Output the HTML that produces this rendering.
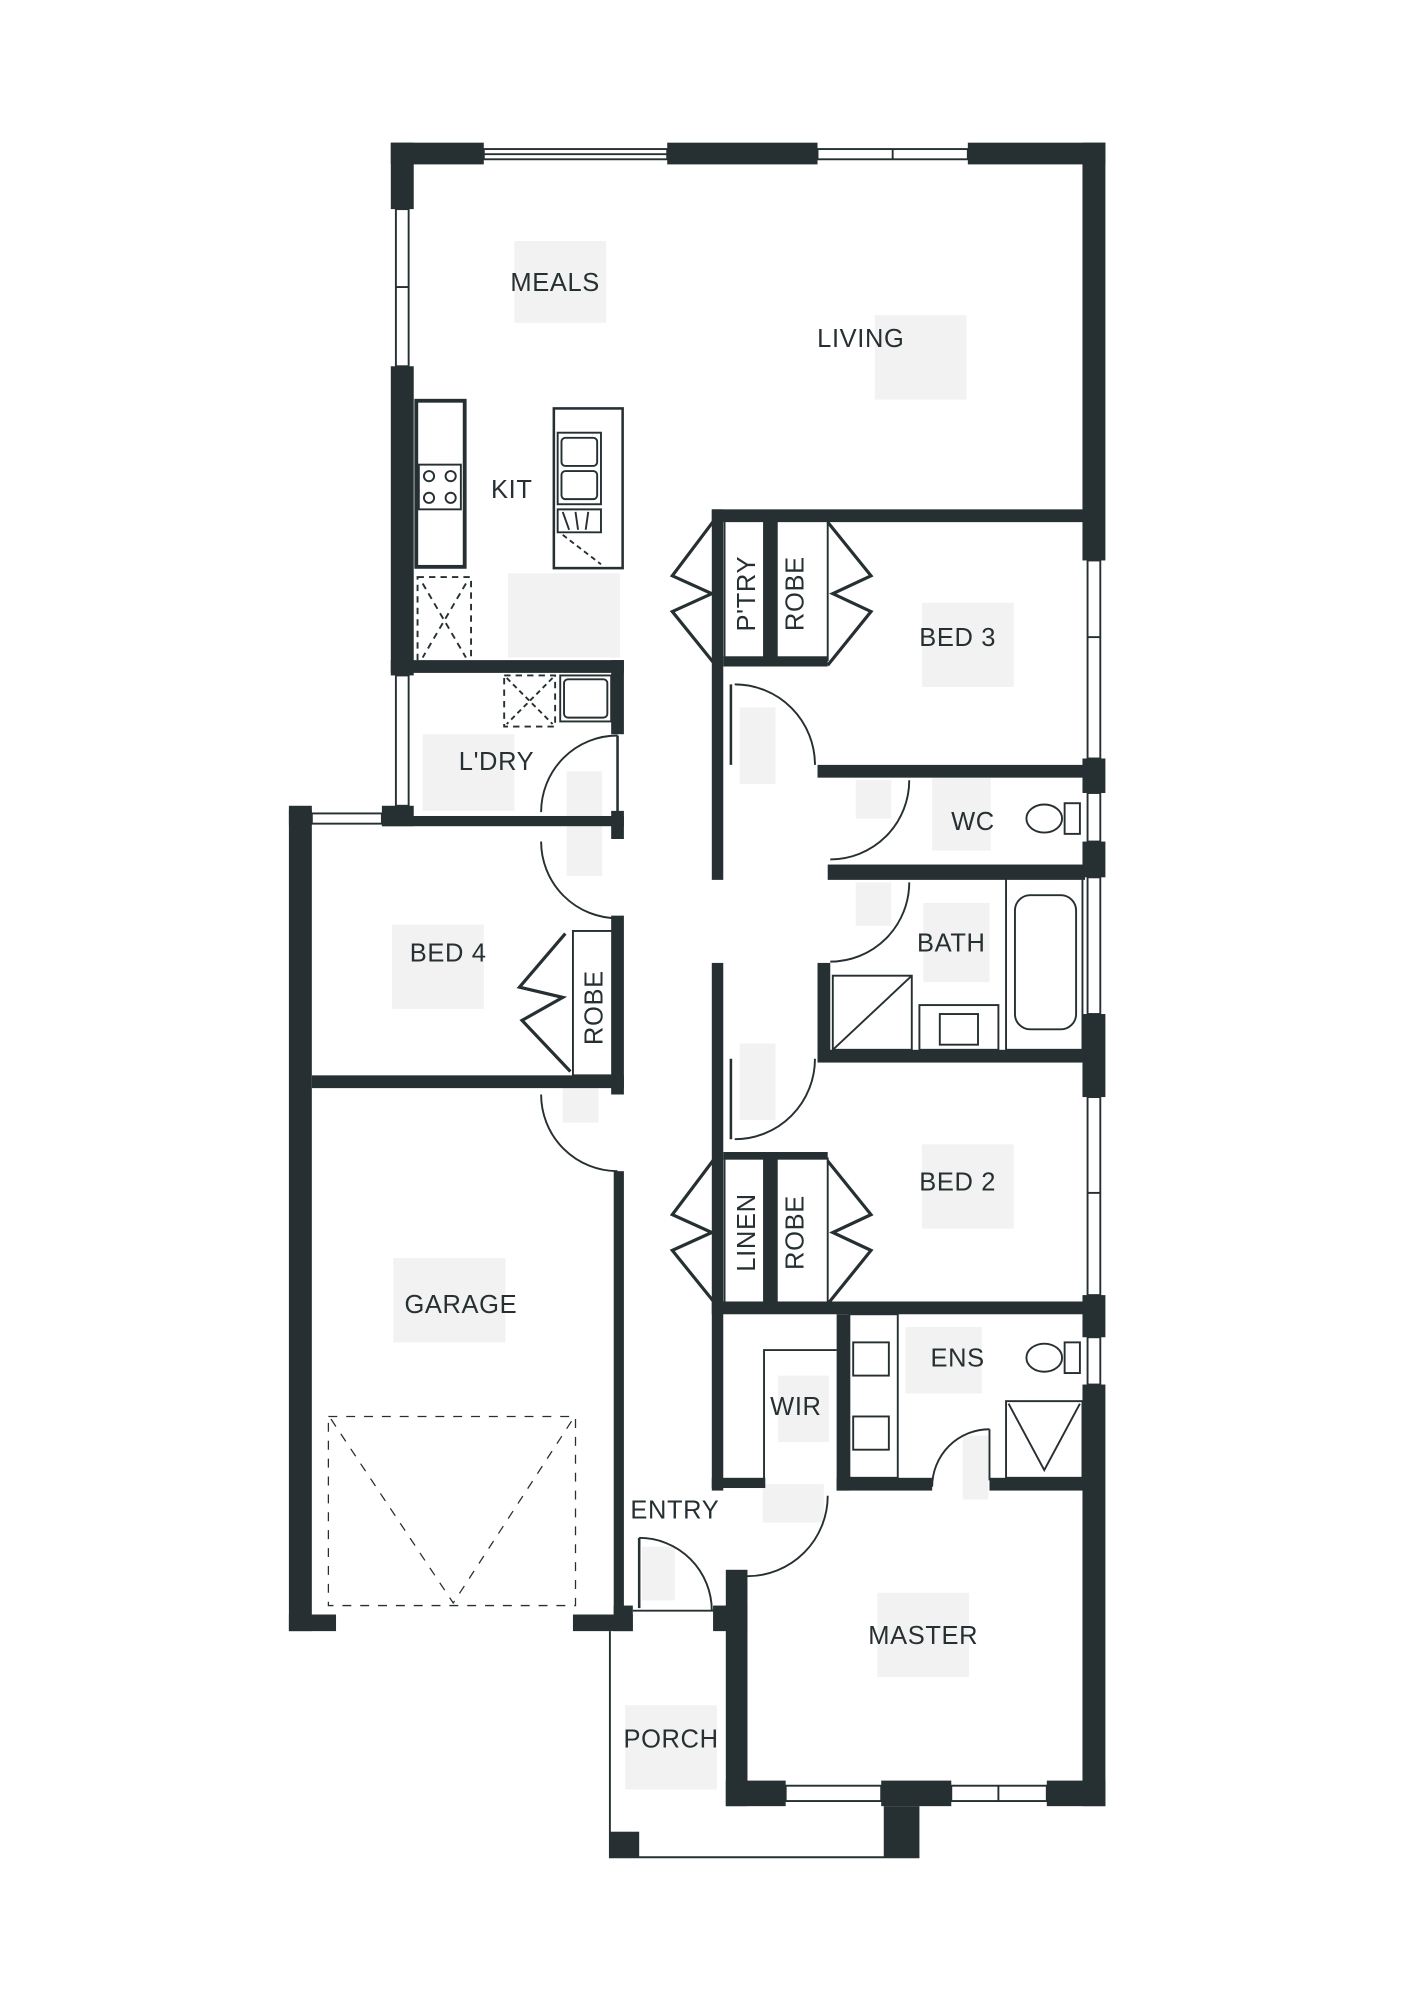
<!DOCTYPE html>
<html><head><meta charset="utf-8"><style>
html,body{margin:0;padding:0;background:#fff}
svg{display:block}
text{font-family:"Liberation Sans",sans-serif;fill:#263033;font-size:20px;letter-spacing:0.5px}
</style></head><body>
<svg width="1414" height="2000" viewBox="0 0 1100 1556" xmlns="http://www.w3.org/2000/svg">
<rect width="1100" height="1556" fill="#fff"/>
<g transform="translate(304,111) scale(0.991,0.994) translate(-305,-113)">
<g fill="#f2f2f2">
<rect x="402" y="190" width="72" height="64"/>
<rect x="685" y="248" width="72" height="66"/>
<rect x="397" y="450" width="88" height="66"/>
<rect x="722" y="473" width="72" height="66"/>
<rect x="330" y="576" width="72" height="60"/>
<rect x="579" y="555" width="28" height="60"/>
<rect x="443" y="605" width="28" height="82"/>
<rect x="670" y="612" width="28" height="30"/>
<rect x="730" y="610" width="46" height="57"/>
<rect x="670" y="692" width="28" height="34"/>
<rect x="723" y="708" width="52" height="62"/>
<rect x="306" y="725" width="72" height="66"/>
<rect x="579" y="818" width="28" height="60"/>
<rect x="440" y="850" width="28" height="30"/>
<rect x="722" y="897" width="72" height="66"/>
<rect x="307" y="986" width="88" height="66"/>
<rect x="709" y="1040" width="60" height="52"/>
<rect x="609" y="1078" width="40" height="52"/>
<rect x="754" y="1125" width="20" height="50"/>
<rect x="597" y="1163" width="48" height="30"/>
<rect x="502" y="1212" width="26" height="42"/>
<rect x="687" y="1248" width="72" height="66"/>
<rect x="489" y="1336" width="72" height="66"/>
</g>
<g fill="#263033">
<rect x="305" y="113" width="73" height="17"/>
<rect x="522" y="113" width="118" height="17"/>
<rect x="758" y="113" width="108" height="17"/>
<rect x="305" y="113" width="18" height="52"/>
<rect x="305" y="288" width="18" height="242"/>
<rect x="298" y="632" width="25" height="16"/>
<rect x="305" y="518" width="183" height="10"/>
<rect x="478" y="518" width="10" height="58"/>
<rect x="478" y="636" width="10" height="22"/>
<rect x="225" y="635" width="18" height="12"/>
<rect x="298" y="640" width="190" height="8"/>
<rect x="225" y="632" width="18" height="646"/>
<rect x="243" y="843" width="245" height="10"/>
<rect x="478" y="718" width="10" height="140"/>
<rect x="480" y="918" width="8" height="357"/>
<rect x="225" y="1265" width="37" height="13"/>
<rect x="448" y="1265" width="47" height="13"/>
<rect x="557" y="400" width="9" height="290"/>
<rect x="557" y="755" width="9" height="413"/>
<rect x="557" y="400" width="293" height="10"/>
<rect x="598" y="405" width="10" height="118"/>
<rect x="566" y="515" width="82" height="8"/>
<rect x="598" y="905" width="10" height="118"/>
<rect x="566" y="903" width="82" height="6"/>
<rect x="848" y="113" width="18" height="327"/>
<rect x="848" y="595" width="18" height="27"/>
<rect x="848" y="660" width="18" height="28"/>
<rect x="848" y="795" width="18" height="65"/>
<rect x="848" y="1015" width="18" height="33"/>
<rect x="848" y="1085" width="18" height="330"/>
<rect x="640" y="600" width="210" height="10"/>
<rect x="648" y="678" width="202" height="12"/>
<rect x="640" y="823" width="210" height="10"/>
<rect x="640" y="755" width="10" height="75"/>
<rect x="557" y="1020" width="293" height="10"/>
<rect x="655" y="1030" width="10" height="138"/>
<rect x="655" y="1158" width="75" height="10"/>
<rect x="775" y="1158" width="75" height="10"/>
<rect x="557" y="1158" width="42" height="8"/>
<rect x="568" y="1230" width="17" height="185"/>
<rect x="568" y="1395" width="47" height="20"/>
<rect x="690" y="1395" width="55" height="20"/>
<rect x="820" y="1395" width="46" height="20"/>
<rect x="692" y="1415" width="28" height="40"/>
<rect x="477" y="1435" width="23" height="20"/>
<rect x="480" y="1258" width="15" height="20"/>
<rect x="558" y="1258" width="27" height="20"/>
</g>
<g fill="none" stroke="#263033" stroke-width="1.5">
<rect x="378" y="118" width="144" height="8"/><line x1="378" y1="122" x2="522" y2="122"/>
<rect x="640" y="118" width="118" height="8"/><line x1="699" y1="118" x2="699" y2="126"/>
<rect x="309" y="165" width="10" height="123"/><line x1="309" y1="226" x2="319" y2="226"/>
<rect x="309" y="530" width="10" height="102"/>
<rect x="243" y="638" width="55" height="8"/>
<rect x="852" y="440" width="10" height="155"/><line x1="852" y1="500" x2="862" y2="500"/>
<rect x="852" y="688" width="10" height="107"/>
<rect x="852" y="860" width="10" height="155"/><line x1="852" y1="935" x2="862" y2="935"/>
<rect x="852" y="622" width="10" height="38"/>
<rect x="852" y="1048" width="10" height="37"/>
<rect x="615" y="1399" width="75" height="12"/>
<rect x="745" y="1399" width="75" height="12"/><line x1="782" y1="1399" x2="782" y2="1411"/>
<polyline points="477,1278 477,1455 720,1455"/>
<line x1="495" y1="1262" x2="560" y2="1262"/>
<rect x="325" y="315" width="38" height="130" stroke-width="3"/>
<rect x="327" y="365" width="33" height="35"/>
<circle cx="335" cy="374" r="4"/><circle cx="352" cy="374" r="4"/><circle cx="335" cy="391" r="4"/><circle cx="352" cy="391" r="4"/>
<rect x="326" y="453" width="42" height="67" stroke-dasharray="5,4"/>
<line x1="330" y1="458" x2="364" y2="516" stroke-dasharray="5,4"/><line x1="364" y1="458" x2="330" y2="516" stroke-dasharray="5,4"/>
<rect x="433" y="321" width="54" height="125" stroke-width="2"/>
<rect x="436" y="340" width="34" height="56"/>
<rect x="439" y="344" width="28" height="22" rx="3"/><rect x="439" y="370" width="28" height="22" rx="3"/>
<path d="M436 400 L470 400 L470 418 L436 418 Z"/>
<line x1="440" y1="402" x2="445" y2="416"/><line x1="450" y1="402" x2="452" y2="416"/><line x1="460" y1="402" x2="458" y2="416"/>
<line x1="440" y1="420" x2="470" y2="443" stroke-dasharray="4,3"/>
<rect x="394" y="530" width="40" height="40" stroke-dasharray="5,4"/>
<line x1="396" y1="532" x2="432" y2="568" stroke-dasharray="4,3"/><line x1="432" y1="532" x2="396" y2="568" stroke-dasharray="4,3"/>
<rect x="438" y="530" width="40" height="36"/><rect x="441" y="533" width="34" height="30" rx="3"/>
<rect x="256" y="1110" width="194" height="148" stroke-dasharray="7,7" stroke-width="1"/>
<polyline points="258,1112 354,1256 448,1112" stroke-dasharray="7,7" stroke-width="1"/>
<rect x="567" y="405" width="31" height="113"/><rect x="608" y="405" width="40" height="113"/>
<rect x="567" y="908" width="31" height="113"/><rect x="608" y="908" width="40" height="113"/>
<rect x="448" y="730" width="32" height="113"/>
<polyline points="560,407 526,452 557,466 526,480 560,522" stroke-width="2.5"/>
<polyline points="648,410 682,452 652,466 682,480 648,522" stroke-width="2.5"/>
<polyline points="560,907 526,952 557,966 526,980 560,1022" stroke-width="2.5"/>
<polyline points="648,910 682,952 652,966 682,980 648,1022" stroke-width="2.5"/>
<polyline points="442,732 406,774 440,782 408,800 446,840" stroke-width="2.5"/>
<path d="M483 577 A60 60 0 0 0 423 637"/><line x1="483" y1="577" x2="483" y2="637" stroke-width="2"/>
<path d="M423 660 A60 60 0 0 0 483 720"/>
<path d="M423 858 A60 60 0 0 0 483 918"/>
<path d="M575 537 A63 63 0 0 1 638 600"/><line x1="572" y1="537" x2="572" y2="600" stroke-width="2"/>
<path d="M712 612 A62 62 0 0 1 650 674"/>
<path d="M712 692 A62 62 0 0 1 650 754"/>
<path d="M638 830 A63 63 0 0 1 575 893"/><line x1="572" y1="830" x2="572" y2="893" stroke-width="2"/>
<path d="M730 1165 A45 45 0 0 1 775 1120"/><line x1="775" y1="1120" x2="775" y2="1160"/>
<path d="M648 1172 A63 63 0 0 1 585 1235"/>
<path d="M500 1205 A57 57 0 0 1 557 1262"/><line x1="500" y1="1205" x2="500" y2="1260" stroke-width="2"/>
<polyline points="598,1160 598,1058 655,1058"/>
<ellipse cx="818" cy="642" rx="14" ry="11"/><rect x="834" y="630" width="12" height="24"/>
<ellipse cx="818" cy="1064" rx="14" ry="11"/><rect x="834" y="1052" width="12" height="24"/>
<rect x="788" y="688" width="60" height="135"/>
<rect x="795" y="702" width="48" height="105" rx="12"/>
<rect x="652" y="765" width="62" height="58"/><line x1="652" y1="823" x2="714" y2="765"/>
<rect x="720" y="788" width="62" height="35"/><rect x="736" y="795" width="30" height="24"/>
<rect x="665" y="1030" width="38" height="128"/>
<rect x="668" y="1052" width="28" height="26"/><rect x="668" y="1110" width="28" height="26"/>
<rect x="788" y="1098" width="60" height="60"/>
<polyline points="790,1100 818,1152 846,1100"/>
</g>
<text x="434" y="229" text-anchor="middle">MEALS</text>
<text x="674" y="273" text-anchor="middle">LIVING</text>
<text x="400" y="391" text-anchor="middle">KIT</text>
<text x="750" y="507" text-anchor="middle">BED 3</text>
<text x="388" y="604" text-anchor="middle">L'DRY</text>
<text x="762" y="651" text-anchor="middle">WC</text>
<text x="745" y="746" text-anchor="middle">BATH</text>
<text x="350" y="754" text-anchor="middle">BED 4</text>
<text x="750" y="933" text-anchor="middle">BED 2</text>
<text x="360" y="1029" text-anchor="middle">GARAGE</text>
<text x="750" y="1071" text-anchor="middle">ENS</text>
<text x="623" y="1109" text-anchor="middle">WIR</text>
<text x="528" y="1190" text-anchor="middle" font-size="18">ENTRY</text>
<text x="723" y="1288" text-anchor="middle">MASTER</text>
<text x="525" y="1369" text-anchor="middle" font-size="18">PORCH</text>
<text transform="translate(591,466) rotate(-90)" text-anchor="middle" font-size="18">P'TRY</text>
<text transform="translate(629,466) rotate(-90)" text-anchor="middle" font-size="18">ROBE</text>
<text transform="translate(591,966) rotate(-90)" text-anchor="middle" font-size="18">LINEN</text>
<text transform="translate(629,966) rotate(-90)" text-anchor="middle" font-size="18">ROBE</text>
<text transform="translate(471,790) rotate(-90)" text-anchor="middle" font-size="18">ROBE</text>
</g>
</svg>
</body></html>
